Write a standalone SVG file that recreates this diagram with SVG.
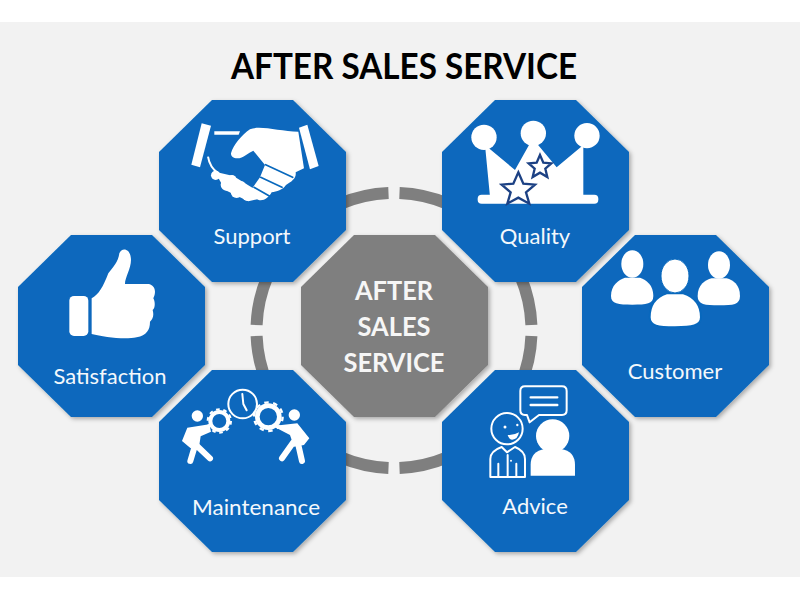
<svg xmlns="http://www.w3.org/2000/svg" width="800" height="600" viewBox="0 0 800 600">
<style>
.lbl{font-family:"Lato","Liberation Sans",sans-serif;font-size:22px;fill:#f4f8fc;text-anchor:middle}
.ctr{font-family:"Lato","Liberation Sans",sans-serif;font-weight:700;font-size:27px;fill:#f6f6f6;text-anchor:middle}
.ttl{font-family:"Lato","Liberation Sans",sans-serif;font-weight:700;font-size:36px;fill:#000;text-anchor:middle}
.blue{fill:#0868bd;filter:url(#sh)}
.gray{fill:#7f7f7f;filter:url(#sh)}
.w{fill:#fff}
.ol{fill:none;stroke:#fff;stroke-width:6;stroke-linecap:round;stroke-linejoin:round}
.cut{fill:none;stroke:#0868bd;stroke-width:5;stroke-linecap:round}
.ring{fill:none;stroke:#7f7f7f;stroke-width:12}
</style>
<defs>
<polygon id="oct" points="53,0 134,0 187,52 187,130 134,182 53,182 0,130 0,52"/>
<filter id="sh" x="-10%" y="-10%" width="125%" height="125%"><feDropShadow dx="2" dy="2" stdDeviation="2" flood-color="#000" flood-opacity="0.3"/></filter>
</defs>
<rect x="0" y="22" width="800" height="555" fill="#f2f2f2"/>
<text class="ttl" x="404" y="79" id="title" textLength="346" lengthAdjust="spacingAndGlyphs">AFTER SALES SERVICE</text>
<g id="connectors">
<path class="ring" d="M388.500 193.100A137.500 137.500 0 0 0 256.600 325"/>
<path class="ring" d="M399.500 193.100A137.500 137.500 0 0 1 531.400 325"/>
<path class="ring" d="M256.600 336A137.500 137.500 0 0 0 388.500 467.900"/>
<path class="ring" d="M531.400 336A137.500 137.500 0 0 1 399.500 467.900"/>
</g>
<g id="center"><use href="#oct" x="301" y="235" class="gray"/>
<text class="ctr" x="394" y="300" textLength="78" lengthAdjust="spacingAndGlyphs">AFTER</text><text class="ctr" x="394" y="336" textLength="73" lengthAdjust="spacingAndGlyphs">SALES</text><text class="ctr" x="394" y="372" textLength="101" lengthAdjust="spacingAndGlyphs">SERVICE</text></g>
<g id="support"><use href="#oct" x="159" y="100" class="blue"/>
<g transform="translate(150 90) scale(.3333)">
<polygon class="w" points="155,100 183,107 150,232 124,224"/><polygon class="w" points="447,113 472,104 506,228 480,238"/>
<polygon class="w" points="193,124 270,124 266,134 193,134"/>
<path class="w" d="M243 190C250 165 275 135 300 118C330 105 390 125 445 125L462 235L437 247C440 265 425 275 408 285C398 300 380 305 365 307C355 325 335 338 320 327L305 297L330 262L345 225L310 182C295 188 280 205 262 205C250 205 243 200 243 190Z"/>
<path d="M174 200C178 225 190 240 205 250" fill="none" stroke="#fff" stroke-width="6"/>
<path class="w" d="M195 245L250 258L312 296L322 328L295 334L225 300Z"/>
<circle class="w" cx="197" cy="256" r="14"/><circle class="w" cx="230" cy="284" r="18"/><circle class="w" cx="260" cy="306" r="18"/><circle class="w" cx="246" cy="268" r="13"/><circle class="w" cx="274" cy="288" r="14"/><circle class="w" cx="292" cy="318" r="15"/>
<path class="cut" d="M347 224L428 262M332 262L396 292M312 292L358 318"/>
</g>
<text class="lbl" x="252" y="244">Support</text></g>
<g id="quality"><use href="#oct" x="442" y="100" class="blue"/>
<g transform="translate(435 90) scale(.3333)">
<circle class="w" cx="147" cy="142" r="38"/><circle class="w" cx="295" cy="130" r="38"/><circle class="w" cx="456" cy="137" r="38"/>
<polygon class="w" points="150,165 240,240 285,160 305,160 365,232 445,165 445,320 165,320"/>
<rect class="w" x="128" y="314" width="362" height="27" rx="12"/>
<polygon points="250,247 265,281 300,284 273,307 283,341 250,323 217,341 227,307 200,284 235,281" fill="#fff" stroke="#1c4184" stroke-width="7"/>
<polygon points="315,195 325,218 349,220 331,236 337,261 315,248 293,261 299,236 281,220 305,218" fill="#fff" stroke="#1c4184" stroke-width="7"/>
</g>
<text class="lbl" x="535" y="244">Quality</text></g>
<g id="satisfaction"><use href="#oct" x="18" y="235" class="blue"/>
<g transform="translate(10 230) scale(.3333)">
<rect class="w" x="178" y="198" width="57" height="120" rx="14"/>
<path class="w" d="M245 205C265 195 280 170 295 130C310 110 325 95 328 70C335 52 358 55 362 80C368 110 345 140 345 162L415 162C435 165 440 185 430 205C436 215 436 235 428 240C432 255 430 265 420 275C420 300 410 315 380 322C340 330 280 320 245 312Z"/>
</g>
<text class="lbl" x="110" y="384">Satisfaction</text></g>
<g id="customer"><use href="#oct" x="582" y="235" class="blue"/>
<g transform="translate(575 230) scale(.3333)">
<ellipse class="w" cx="172" cy="102" rx="33" ry="41"/>
<path class="w" d="M108 198C108 165 130 150 150 143L195 143C215 150 235 165 235 198C235 222 215 224 172 224C130 224 108 222 108 198Z"/>
<ellipse class="w" cx="432" cy="105" rx="33" ry="41"/>
<path class="w" d="M368 198C368 165 390 150 410 145L455 145C475 150 495 165 495 198C495 224 475 226 432 226C390 226 368 224 368 198Z"/>
<path d="M224 262C224 220 245 200 275 190L325 190C355 200 378 220 378 262C378 288 350 292 300 292C250 292 224 288 224 262Z" fill="#fff" stroke="#0868bd" stroke-width="6"/>
<ellipse cx="300" cy="138" rx="42" ry="51" fill="#fff" stroke="#0868bd" stroke-width="3"/>
</g>
<text class="lbl" x="675" y="379">Customer</text></g>
<g id="maintenance"><use href="#oct" x="159" y="370" class="blue"/>
<g transform="translate(150 365) scale(.3333)">
<circle class="ol" cx="278" cy="117" r="43"/><path class="ol" d="M277 87L280 117L290 136"/>
<circle cx="208" cy="168" r="27" fill="none" stroke="#fff" stroke-width="12"/><circle cx="208" cy="168" r="35" fill="none" stroke="#fff" stroke-width="6" stroke-dasharray="11 11"/>
<circle cx="355" cy="155" r="33" fill="none" stroke="#fff" stroke-width="14"/><circle cx="355" cy="155" r="43" fill="none" stroke="#fff" stroke-width="7" stroke-dasharray="13.500 13.500"/>
<circle class="w" cx="142" cy="153" r="17"/><circle class="w" cx="433" cy="150" r="17"/>
<polygon class="w" points="112,188 178,178 183,200 152,214 148,240 122,250 96,228"/>
<path d="M136 238L121 288M138 240L180 280" fill="none" stroke="#fff" stroke-width="18" stroke-linecap="round"/>
<polygon class="w" points="368,183 442,175 478,220 462,240 432,245 420,210"/>
<path d="M430 232L396 280M444 235L456 288" fill="none" stroke="#fff" stroke-width="18" stroke-linecap="round"/>
</g>
<text class="lbl" x="256" y="515" textLength="128" lengthAdjust="spacingAndGlyphs">Maintenance</text></g>
<g id="advice"><use href="#oct" x="442" y="370" class="blue"/>
<g transform="translate(435 365) scale(.3333)">
<path class="ol" d="M270 64H381Q395 64 395 78V136Q395 150 381 150H312L284 172L276 150H270Q256 150 256 136V78Q256 64 270 64Z"/>
<path class="ol" style="stroke-width:7" d="M287 97H367M287 120H367"/>
<circle class="ol" cx="216" cy="191" r="47"/>
<circle class="w" cx="210" cy="186" r="4.500"/><circle class="w" cx="247" cy="180" r="3.500"/>
<path class="w" d="M218 210Q235 212 252 202Q248 224 232 224Q222 224 218 210Z"/>
<path class="ol" d="M166 336V282Q166 258 200 246L216 262L240 246Q270 258 270 282V336ZM218 270V336M190 336V296M244 336V296"/>
<circle class="w" cx="228" cy="287" r="3"/>
<circle class="w" cx="353" cy="213" r="50"/>
<path class="w" d="M287 332V300Q287 258 330 252H378Q420 258 420 300V332Z"/>
</g>
<text class="lbl" x="535" y="514">Advice</text></g>
</svg>
